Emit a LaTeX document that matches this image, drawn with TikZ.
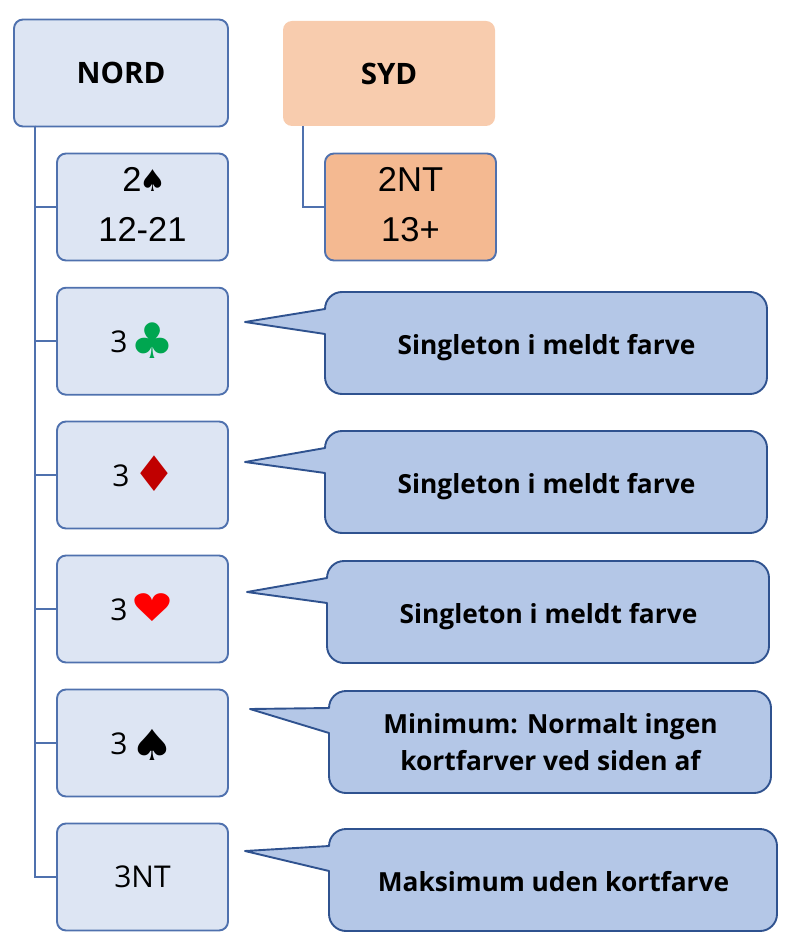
\documentclass[tikz,border=0pt]{standalone}
\usepackage{graphicx}
\usepackage{fontspec}
\setmainfont{Open Sans}
\newfontfamily\arialfont{Liberation Sans}
\newfontfamily\suitfont{DejaVu Sans}
\definecolor{bidfill}{HTML}{DDE5F3}
\definecolor{bidline}{HTML}{4F71AE}
\definecolor{sydhead}{HTML}{F8CCAE}
\definecolor{sydfill}{HTML}{F4B991}
\definecolor{notefill}{HTML}{B4C7E7}
\definecolor{noteline}{HTML}{2F528F}
\definecolor{clubgreen}{HTML}{00A650}
\definecolor{diamondred}{HTML}{C00000}
\definecolor{heartred}{HTML}{FF0000}
\newcommand{\suit}[3]{\textcolor{#1}{\suitfont\fontsize{#2}{#2}\selectfont #3}}
% farve, tegn, hoejdeskala, haevning
\newcommand{\suitrow}[4]{\raisebox{-1pt}[21.4pt][0pt]{3}\hspace{3pt}\raisebox{#4}[0pt][0pt]{\scalebox{1}[#3]{\suit{#1}{49}{#2}}}}
\newcommand{\lowpad}{\rule[-6pt]{0pt}{6pt}}

\begin{document}
\begin{tikzpicture}[
    x=1pt, y=-1pt,
    box/.style={draw=bidline, line width=1.9pt, rounded corners=9pt, fill=bidfill,
        minimum width=171pt, minimum height=107pt, inner sep=0pt, outer sep=0pt,
        align=center, font=\fontsize{30}{36}\selectfont},
    twoline/.style={font=\arialfont\fontsize{34.5}{50}\selectfont},
    headtext/.style={font=\bfseries\fontsize{29.5}{35}\selectfont},
    link/.style={draw=bidline, line width=1.9pt},
    note/.style={draw=noteline, line width=1.9pt, fill=notefill, line join=round},
    notetext/.style={align=center, inner sep=0pt, font=\bfseries\fontsize{26.3}{37}\selectfont},
    ]
    \useasboundingbox (0,0) rectangle (787,949);

    % --- NORD ---
    \node[box, headtext, minimum width=214pt] (nord) at (121,73) {NORD};
    \node[box, twoline] (bidtwo) at (142.5,207) {2\hspace{-2pt}\suit{black}{30}{♠}\hspace*{-4pt}\\12-21\lowpad};
    \node[box] (bidclub) at (142.5,341.2) {\suitrow{clubgreen}{♣}{1}{-6.5pt}};
    \node[box] (biddiamond) at (142.5,475) {\suitrow{diamondred}{♦}{1}{-6pt}\hspace*{-4pt}};
    \node[box] (bidheart) at (142.5,609) {\suitrow{heartred}{♥}{0.78}{-2.1pt}};
    \node[box] (bidspade) at (142.5,743) {\suitrow{black}{♠}{0.87}{-6.6pt}};
    \node[box] (bidnt) at (142.5,877) {3NT};

    % --- SYD ---
    \node[box, headtext, draw=none, fill=sydhead, minimum width=212pt, minimum height=105pt] (syd) at (389,73.5) {SYD};
    \node[box, twoline, fill=sydfill] (sydbid) at (410.5,207) {2NT\\13+\lowpad};

    % --- forbindelser ---
    \coordinate (nordtrunk) at (35,126);
    \coordinate (sydtrunk) at (303,126);
    \foreach \n in {bidtwo,bidclub,biddiamond,bidheart,bidspade,bidnt}
        \draw[link] (nordtrunk) |- (\n.west);
    \draw[link] (sydtrunk) |- (sydbid.west);

    % --- kommentarer ---
    \foreach \i/\xa/\ya/\xb/\yb/\tipx/\tipy/\basea/\baseb/\dy/\txt in {
        1/325/292/767/394/245/322/309/334/4.5/{Singleton i meldt farve},
        2/325/431/767/533/245/462/448/473/4.5/{Singleton i meldt farve},
        3/327/561/769/663/247/592/578/603/4.5/{Singleton i meldt farve},
        4/329/691/771/793/250/709/708/733/0/{Minimum: Normalt ingen\\kortfarver ved siden af},
        5/329/829/777/931/245/851/846/871/2/{Maksimum uden kortfarve}}{
        \draw[note] (\tipx,\tipy) -- (\xa,\basea) [rounded corners=17pt] -- (\xa,\ya) -- (\xb,\ya)
            -- (\xb,\yb) -- (\xa,\yb) [sharp corners] -- (\xa,\baseb) -- cycle;
        \node[notetext] (note\i) at ({(\xa+\xb)/2+0.5},{(\ya+\yb)/2+\dy}) {\txt};
    }
\end{tikzpicture}
\end{document}
